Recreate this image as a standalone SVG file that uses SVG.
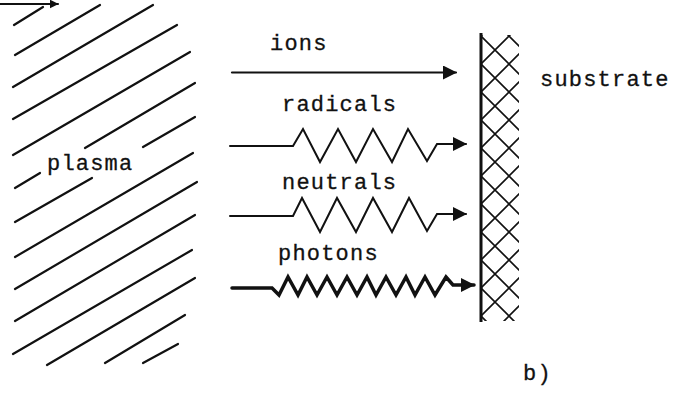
<svg xmlns="http://www.w3.org/2000/svg" width="686" height="402" viewBox="0 0 686 402">
<style>
.h{stroke:#111;stroke-width:2.2;stroke-linecap:round;fill:none}
.t{font-family:"Liberation Mono","DejaVu Sans Mono",monospace;font-size:22px;fill:#111;stroke:#111;stroke-width:0.3;letter-spacing:1.2px}
.c{stroke:#111;fill:none;stroke-linejoin:miter;stroke-linecap:round}
</style>
<defs>
<marker id="ah" markerUnits="userSpaceOnUse" viewBox="0 0 14 14" markerWidth="14" markerHeight="14" refX="13" refY="7" orient="auto">
<path d="M0,0 L14,7 L0,14 z" fill="#111"/>
</marker>
<marker id="ahs" markerUnits="userSpaceOnUse" viewBox="0 0 14 14" markerWidth="9" markerHeight="9" refX="13" refY="7" orient="auto">
<path d="M0,0 L14,7 L0,14 z" fill="#111"/>
</marker>
<pattern id="xh" patternUnits="userSpaceOnUse" x="481" y="36" width="28" height="28">
<path d="M0,0 L28,28 M0,28 L28,0" stroke="#111" stroke-width="1.6" fill="none"/>
</pattern>
</defs>
<g id="plasma">
<path class="h" d="M14,25 L43,7 M15,55 L100,5 M13,87 L153,5 M13,119 L177,25 M13,155 L190,52 M15,188 L40,173 M85,148 L195,83 M15,222 L92,178 M143,147 L195,117 M15,257 L193,153 M15,289 L197,182 M15,321 L195,215 M13,354 L192,250 M47,365 L195,278 M105,363 L185,315 M143,363 L178,344"/>
<text class="t" x="47" y="170">plasma</text>
</g>
<g id="substrate">
<rect x="481" y="35" width="38" height="286" fill="url(#xh)"/>
<line x1="481" y1="33" x2="481" y2="322" stroke="#111" stroke-width="3"/>
<text class="t" x="540" y="86">substrate</text>
</g>
<g id="labels">
<text class="t" x="270" y="50">ions</text>
<text class="t" x="282" y="111">radicals</text>
<text class="t" x="282" y="189">neutrals</text>
<text class="t" x="278" y="260">photons</text>
<text class="t" x="523" y="380">b)</text>
</g>
<g id="connectors">
<line class="c" x1="0" y1="4" x2="58" y2="4" stroke-width="2" marker-end="url(#ahs)"/>
<line class="c" x1="232" y1="72.5" x2="456" y2="72.5" stroke-width="2.2" marker-end="url(#ah)"/>
<polyline class="c" stroke-width="2" marker-end="url(#ah)" points="230,146 293,146 303,129 320,162 338,129 356,162 373,129 392,162 408,129 427,161 437,144 466,144"/>
<polyline class="c" stroke-width="2" marker-end="url(#ah)" points="230,216 293,216 302,198 320,232 337,198 356,232 373,198 392,232 409,198 427,231 437,214 466,214"/>
<polyline class="c" stroke-width="3.5" marker-end="url(#ah)" points="232,288 272,288 279,295 288,277 298,295 307,277 317,295 327,277 337,295 347,277 357,295 367,277 376,295 386,277 396,295 406,277 415,295 425,277 435,295 446,277 453,285 474,285"/>
</g>
</svg>
